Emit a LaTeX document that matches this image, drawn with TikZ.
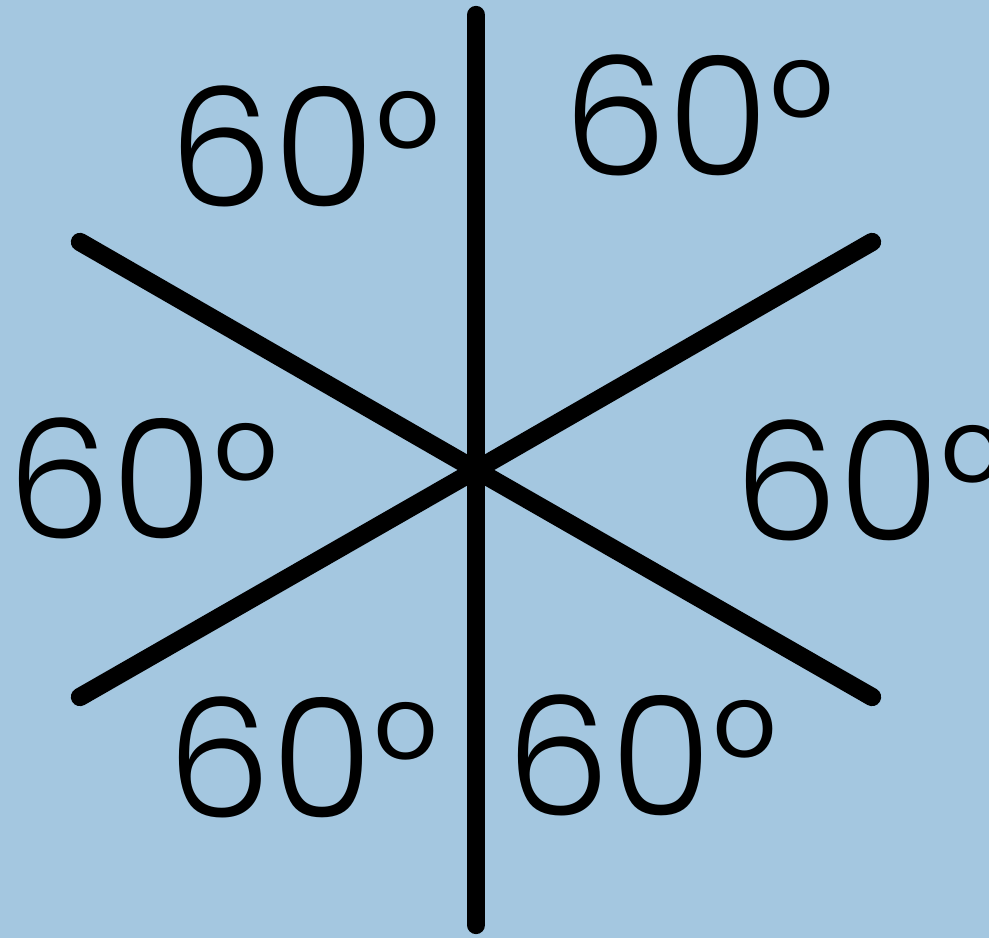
\documentclass[tikz,border=0pt]{standalone}
\usepackage{fontspec}
\setmainfont{Poppins}[UprightFont=* Light]
\definecolor{paperblue}{RGB}{164,199,224}
\begin{document}
\begin{tikzpicture}[
	spoke/.style={line width=5.2pt, line cap=round},
	anglelabel/.style={inner sep=0pt, font=\fontsize{47}{47}\selectfont}]
	\fill[paperblue] (0,0) rectangle (9.89,9.38);
	\useasboundingbox (0,0) rectangle (9.89,9.38);
	% centre and ends of the three lines
	\coordinate (c) at (4.76,4.68);
	\coordinate (top) at (4.76,9.23);
	\coordinate (bottom) at (4.76,0.13);
	\coordinate (upleft) at (0.80,6.96);
	\coordinate (upright) at (8.72,6.96);
	\coordinate (lowleft) at (0.80,2.41);
	\coordinate (lowright) at (8.72,2.41);
	\draw[spoke] (top) -- (c) -- (bottom);
	\draw[spoke] (upleft) -- (c) -- (lowright);
	\draw[spoke] (lowleft) -- (c) -- (upright);
	% labels
	\node[anglelabel] (lbltl) at (3.05,7.92) {60°};
	\node[anglelabel] (lbltr) at (6.99,8.23) {60°};
	\node[anglelabel] (lbll) at (1.43,4.60) {60°};
	\node[anglelabel] (lblr) at (8.70,4.58) {60°};
	\node[anglelabel] (lblbl) at (3.03,1.81) {60°};
	\node[anglelabel] (lblbr) at (6.42,1.83) {60°};
\end{tikzpicture}
\end{document}
